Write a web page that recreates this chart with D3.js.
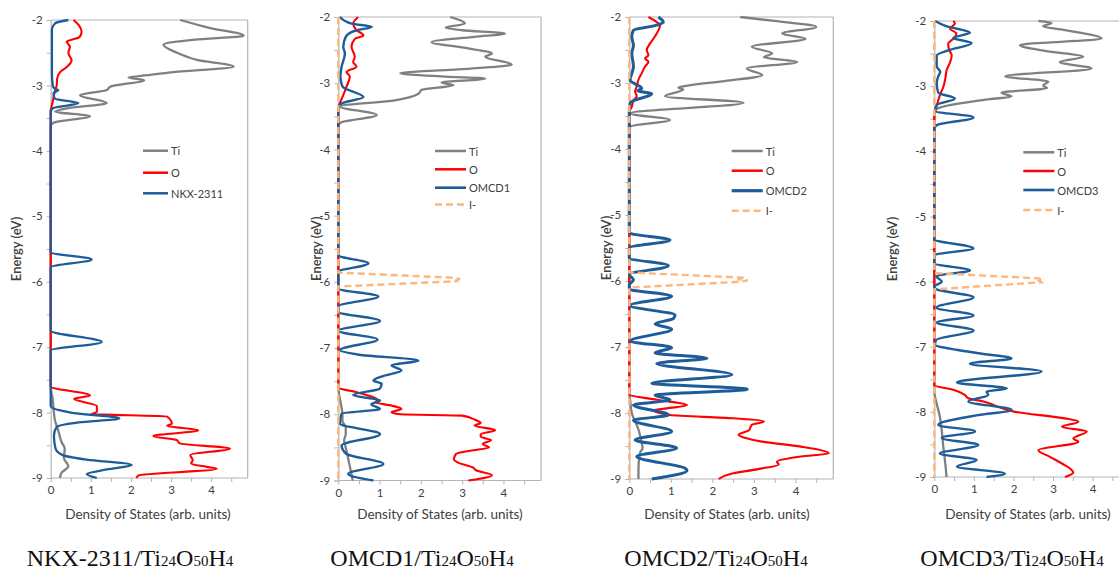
<!DOCTYPE html>
<html><head><meta charset="utf-8">
<script src="https://cdn.jsdelivr.net/npm/d3@7"></script>
<style>body{margin:0;background:#fff}svg{display:block}</style>
</head><body>
<svg id="chart" width="1119" height="573"></svg>
<script>
// ---------------- DATA ----------------
const energyTicks = [-9, -8, -7, -6, -5, -4, -3, -2];
const dosTicks = [0, 1, 2, 3, 4];
const dyeNames = ["NKX-2311", "OMCD1", "OMCD2", "OMCD3"];
const speciesNames = ["Ti", "O", "I-"];
const captionParts = [["/Ti", false], ["24", true], ["O", false], ["50", true], ["H", false], ["4", true]];

// each point: [energy (eV), density of states]
const nkxTi = [[-2,3.23],[-2.12,3.95],[-2.24,4.81],[-2.3,3.6],[-2.38,2.81],[-2.5,3.15],[-2.56,3.39],[-2.61,3.64],[-2.71,4.56],[-2.8,3.0],[-2.84,2.48],[-2.88,1.94],[-2.92,2.33],[-3.02,1.48],[-3.07,1.40],[-3.15,0.73],[-3.27,1.40],[-3.35,0.40],[-3.40,0.11],[-3.47,0.98],[-3.57,0.07],[-3.62,0],[-7.6,0],[-7.8,0.05],[-8.0,0.08],[-8.1,0.1],[-8.3,0.2],[-8.45,0.27],[-8.55,0.35],[-8.7,0.33],[-8.82,0.44],[-8.92,0.27],[-9,0.23]];
const nkxO = [[-2,0.57],[-2.08,0.7],[-2.18,0.77],[-2.26,0.72],[-2.33,0.40],[-2.41,0.48],[-2.5,0.44],[-2.62,0.52],[-2.72,0.40],[-2.8,0.23],[-2.9,0.16],[-3.0,0.15],[-3.1,0.1],[-3.25,0.05],[-3.4,0],[-7.6,0],[-7.74,0.98],[-7.79,0.58],[-7.9,1.15],[-7.99,1.15],[-8.02,1.02],[-8.06,2.9],[-8.17,3.02],[-8.2,2.9],[-8.27,3.68],[-8.36,2.56],[-8.42,3.14],[-8.47,3.22],[-8.55,4.47],[-8.65,3.48],[-8.73,3.54],[-8.78,3.5],[-8.83,3.89],[-8.86,4.14],[-8.96,2.19],[-9,2.14]];
const nkxDye = [[-2,0.44],[-2.05,0.11],[-2.15,0.03],[-2.8,0.03],[-3.0,0.05],[-3.05,0.1],[-3.07,0.19],[-3.12,0.07],[-3.2,0.1],[-3.27,0.69],[-3.35,0.05],[-3.4,0],[-5.55,0],[-5.66,1.02],[-5.78,0],[-6.75,0],[-6.92,1.27],[-7.05,0],[-7.9,0],[-8.0,0.5],[-8.09,1.71],[-8.15,0.7],[-8.22,0.15],[-8.35,0.08],[-8.55,0.12],[-8.65,0.3],[-8.72,0.9],[-8.8,2.02],[-8.87,1.4],[-8.94,0.9],[-9,1.15]];

const omcd1Ti = [[-2,2.71],[-2.05,2.95],[-2.1,3.07],[-2.16,2.6],[-2.2,3.0],[-2.25,4.04],[-2.3,3.3],[-2.38,2.26],[-2.46,3.0],[-2.55,3.72],[-2.6,3.56],[-2.72,4.2],[-2.78,3.2],[-2.85,1.5],[-2.9,2.6],[-2.93,3.56],[-2.99,2.5],[-3.03,2.79],[-3.1,2.02],[-3.16,1.94],[-3.26,1.37],[-3.35,0.04],[-3.48,0.93],[-3.6,0.04],[-3.65,0],[-7.6,0],[-7.7,0.02],[-7.9,0.08],[-8.0,0.1],[-8.1,0.1],[-8.2,0.18],[-8.3,0.18],[-8.4,0.14],[-8.5,0.18],[-8.7,0.25],[-8.85,0.3],[-9,0.35]];
const omcd1O = [[-2,0.48],[-2.1,0.36],[-2.2,0.44],[-2.25,0.57],[-2.28,0.61],[-2.33,0.4],[-2.45,0.32],[-2.6,0.4],[-2.68,0.36],[-2.75,0.44],[-2.83,0.2],[-2.9,0.28],[-3.05,0.2],[-3.18,0.12],[-3.3,0.04],[-3.36,0],[-7.6,0],[-7.66,0.4],[-7.72,0.75],[-7.78,0.95],[-7.82,0.9],[-7.87,1.3],[-7.92,1.53],[-7.97,1.29],[-8.0,1.5],[-8.02,3.0],[-8.08,3.3],[-8.13,3.45],[-8.17,3.3],[-8.24,3.8],[-8.3,3.45],[-8.34,3.45],[-8.39,3.7],[-8.45,3.5],[-8.5,3.65],[-8.55,3.2],[-8.6,2.85],[-8.68,2.8],[-8.73,2.9],[-8.8,3.25],[-8.85,3.35],[-8.92,3.72],[-9,3.15]];
const omcd1Dye = [[-2,0.04],[-2.1,0.32],[-2.15,0.81],[-2.2,0.44],[-2.3,0.18],[-2.45,0.12],[-2.55,0.16],[-2.75,0.08],[-2.9,0.05],[-3.05,0.1],[-3.21,0.61],[-3.3,0.1],[-3.35,0],[-5.6,0],[-5.72,0.73],[-5.85,0],[-6.1,0],[-6.22,0.97],[-6.37,0],[-6.45,0],[-6.59,1.01],[-6.74,0],[-6.87,0.95],[-7.03,0.04],[-7.1,0.5],[-7.19,1.94],[-7.26,1.29],[-7.34,1.53],[-7.42,1.1],[-7.49,0.85],[-7.54,1.05],[-7.61,1.01],[-7.71,0.36],[-7.79,1.01],[-7.85,0.8],[-7.92,1.01],[-7.99,0.08],[-8.14,0.04],[-8.3,1.01],[-8.47,0.08],[-8.6,0.2],[-8.75,1.09],[-8.9,0.24],[-9,0.85]];
const omcd1I = [[-2,0],[-5.86,0],[-5.94,2.85],[-5.96,2.95],[-5.97,2.8],[-5.99,2.9],[-6.07,0],[-9,0]];

const omcd2Ti = [[-2,2.67],[-2.06,3.5],[-2.15,4.5],[-2.25,3.68],[-2.33,4.24],[-2.45,2.95],[-2.55,3.44],[-2.61,3.24],[-2.68,4.04],[-2.78,2.83],[-2.88,3.2],[-2.97,2.3],[-3.04,1.4],[-3.07,1.18],[-3.1,1.3],[-3.2,0.86],[-3.3,2.75],[-3.46,0.02],[-3.56,0.98],[-3.66,0.02],[-3.7,0],[-7.7,0],[-7.8,0.02],[-8.0,0.06],[-8.25,0.22],[-8.46,0.3],[-8.53,0.32],[-8.6,0.26],[-8.85,0.22],[-9,0.22]];
const omcd2O = [[-2,0.46],[-2.06,0.62],[-2.13,0.74],[-2.25,0.66],[-2.33,0.58],[-2.4,0.5],[-2.5,0.42],[-2.58,0.46],[-2.63,0.38],[-2.68,0.46],[-2.75,0.38],[-2.85,0.3],[-2.95,0.22],[-3.05,0.18],[-3.13,0.14],[-3.2,0.18],[-3.26,0.1],[-3.36,0.06],[-3.44,0],[-7.72,0],[-7.8,0.66],[-7.88,1.39],[-7.93,0.9],[-7.96,0.58],[-8.03,0.98],[-8.08,2.5],[-8.13,3.24],[-8.18,2.95],[-8.26,2.88],[-8.33,2.63],[-8.38,2.8],[-8.43,3.16],[-8.51,4.13],[-8.61,4.8],[-8.66,4.13],[-8.74,3.55],[-8.78,3.6],[-8.85,3.1],[-8.92,2.45],[-9,2.15]];
const omcd2Dye = [[-2,0.7],[-2.08,0.82],[-2.13,0.62],[-2.2,0.1],[-2.3,0.06],[-2.43,0.1],[-2.55,0.06],[-2.75,0.1],[-2.96,0.02],[-3.08,0.3],[-3.12,0.2],[-3.16,0.54],[-3.3,0.02],[-3.45,0],[-5.27,0],[-5.38,0.98],[-5.5,0],[-5.65,0],[-5.77,0.94],[-5.9,0],[-5.98,0.1],[-6.06,0],[-6.12,0],[-6.23,1.02],[-6.37,0.02],[-6.52,1.1],[-6.57,1.06],[-6.65,0.62],[-6.73,1.02],[-6.91,0.02],[-7.01,1.02],[-7.09,0.62],[-7.17,1.87],[-7.25,0.66],[-7.42,2.47],[-7.55,0.54],[-7.64,2.84],[-7.73,0.62],[-7.8,0.98],[-7.88,0.1],[-8.03,0.94],[-8.11,0.1],[-8.28,1.02],[-8.41,0.14],[-8.53,1.14],[-8.66,0.18],[-8.84,1.35],[-8.87,1.39],[-9,0.54]];
const omcd2I = [[-2,0],[-5.87,0],[-5.95,2.75],[-5.97,2.6],[-5.99,2.85],[-6.01,2.7],[-6.1,0],[-9,0]];

const omcd3Ti = [[-2,2.63],[-2.03,2.96],[-2.08,2.75],[-2.13,3.2],[-2.27,4.23],[-2.37,2.16],[-2.46,2.8],[-2.55,3.76],[-2.63,3.17],[-2.73,3.97],[-2.85,1.79],[-2.93,2.88],[-2.99,2.75],[-3.03,2.85],[-3.1,1.7],[-3.16,1.95],[-3.2,1.4],[-3.35,0.06],[-3.4,0],[-7.7,0],[-7.85,0.05],[-8.07,0.14],[-8.3,0.19],[-8.55,0.23],[-8.75,0.27],[-9,0.31]];
const omcd3O = [[-2,0.48],[-2.04,0.52],[-2.12,0.4],[-2.19,0.56],[-2.27,0.48],[-2.35,0.35],[-2.45,0.38],[-2.53,0.44],[-2.63,0.4],[-2.76,0.31],[-2.88,0.28],[-3.01,0.23],[-3.14,0.14],[-3.3,0.06],[-3.4,0],[-7.59,0],[-7.66,0.48],[-7.74,0.77],[-7.79,0.86],[-7.84,1.24],[-7.92,1.6],[-8.0,2.04],[-8.1,3.3],[-8.15,3.64],[-8.23,3.22],[-8.3,3.85],[-8.41,3.51],[-8.46,3.64],[-8.59,2.63],[-8.69,2.92],[-8.82,3.3],[-8.87,3.43],[-8.93,3.51],[-9,3.3]];
const omcd3Dye = [[-2,0.02],[-2.08,0.3],[-2.18,0.9],[-2.26,0.48],[-2.34,0.94],[-2.45,0.35],[-2.53,0.06],[-2.7,0.06],[-2.78,0.15],[-2.85,0.1],[-2.95,0.06],[-3.1,0.1],[-3.19,0.52],[-3.29,0.06],[-3.38,0.02],[-3.48,0.99],[-3.6,0.06],[-3.65,0],[-5.35,0],[-5.49,0.99],[-5.6,0],[-5.72,0],[-5.83,0.9],[-5.92,0.05],[-6.0,0.19],[-6.08,0],[-6.12,0.06],[-6.24,0.99],[-6.4,0.06],[-6.52,0.99],[-6.63,0.06],[-6.75,0.99],[-6.9,0.04],[-6.97,0.02],[-7.05,0.6],[-7.1,1.11],[-7.18,1.95],[-7.26,0.9],[-7.38,2.71],[-7.55,0.57],[-7.64,1.83],[-7.69,1.32],[-7.74,1.36],[-7.84,0.86],[-7.97,1.95],[-8.05,1.11],[-8.2,0.1],[-8.3,1.03],[-8.4,0.19],[-8.51,1.11],[-8.64,0.14],[-8.74,1.07],[-8.84,0.57],[-8.95,1.78],[-9,1.32]];
const omcd3I = [[-2,0],[-5.87,0],[-5.95,2.6],[-5.97,2.75],[-5.99,2.65],[-6.01,2.7],[-6.12,0],[-9,0]];

// ---------------- LAYOUT / STYLE ----------------
const panelData = [
  {ti: nkxTi, o: nkxO, dye: nkxDye, iod: null},
  {ti: omcd1Ti, o: omcd1O, dye: omcd1Dye, iod: omcd1I},
  {ti: omcd2Ti, o: omcd2O, dye: omcd2Dye, iod: omcd2I},
  {ti: omcd3Ti, o: omcd3O, dye: omcd3Dye, iod: omcd3I}
];
const layout = [
  {x: [50.7, 247.7], y: [478, 20], eTitleX: 16, xTitleX: 148, capX: 130, leg: {x: 143, len: 25, ys: [150.7, 172.7, 193.3]}, dyeW: 2.3},
  {x: [338.3, 541], y: [480.5, 17], eTitleX: 316, xTitleX: 440, capX: 422, leg: {x: 435, len: 31, ys: [151, 169.3, 187.7, 204.5]}, dyeW: 2.4},
  {x: [629.3, 833.3], y: [479, 17], eTitleX: 606, xTitleX: 727, capX: 716, leg: {x: 731.7, len: 31, ys: [151, 170.7, 190.7, 210.7]}, dyeW: 3.0},
  {x: [934.3, 1128.7], y: [477, 21], eTitleX: 892, xTitleX: 1028, capX: 1012, leg: {x: 1023.3, len: 31, ys: [152.3, 171, 190, 210]}, dyeW: 2.4}
];
const XMAX = 4.91;
const colors = {ti: "#808080", o: "#ff0000", dye: "#1d5c98", iod: "#fbb77d", frame: "#b4b4b4", text: "#404040"};
const sansFont = "Lato, 'Open Sans', 'Liberation Sans', sans-serif";

const svg = d3.select("#chart");

panelData.forEach((pd, i) => {
  const L = layout[i];
  const xs = d3.scaleLinear().domain([0, XMAX]).range(L.x);
  const ys = d3.scaleLinear().domain([-9, -2]).range(L.y);
  const g = svg.append("g");
  const clipId = "clip" + i;
  g.append("clipPath").attr("id", clipId).append("rect")
    .attr("x", L.x[0] - 3).attr("y", L.y[1] - 3)
    .attr("width", L.x[1] - L.x[0] + 3).attr("height", L.y[0] - L.y[1] + 6);

  // frame: top & right
  g.append("line").attr("x1", L.x[0]).attr("x2", L.x[1]).attr("y1", L.y[1]).attr("y2", L.y[1])
    .attr("stroke", colors.frame).attr("stroke-width", 1.2);
  g.append("line").attr("x1", L.x[1]).attr("x2", L.x[1]).attr("y1", L.y[1]).attr("y2", L.y[0])
    .attr("stroke", colors.frame).attr("stroke-width", 1.2);

  // axes
  const yMinor = d3.range(-9, -1.99, 0.5);
  const xMinor = d3.range(0, XMAX, 0.5);
  const yAxis = d3.axisLeft(ys).tickValues(yMinor).tickSize(4)
    .tickFormat(d => energyTicks.includes(d) ? String(d) : "");
  const xAxis = d3.axisBottom(xs).tickValues(xMinor).tickSize(4)
    .tickFormat(d => dosTicks.includes(d) ? String(d) : "");
  const ya = g.append("g").attr("transform", `translate(${L.x[0]},0)`).call(yAxis);
  const xa = g.append("g").attr("transform", `translate(0,${L.y[0]})`).call(xAxis);
  [ya, xa].forEach(a => {
    a.select(".domain").attr("stroke", colors.frame).attr("stroke-width", 1.2);
    a.selectAll(".tick line").attr("stroke", colors.frame);
    a.selectAll(".tick text").attr("fill", colors.text).attr("font-family", sansFont).attr("font-size", 11.5);
  });
  ya.selectAll(".tick text").attr("x", -8);
  xa.selectAll(".tick text").attr("y", 8);
  xa.select(".domain").attr("d", `M${L.x[0]},0H${L.x[1]}`);

  // axis titles
  g.append("text").attr("transform", `translate(${L.eTitleX},${(L.y[0] + L.y[1]) / 2}) rotate(-90)`)
    .attr("text-anchor", "middle").attr("dominant-baseline", "central")
    .attr("font-family", sansFont).attr("font-size", 13).attr("font-weight", 600).attr("fill", colors.text)
    .text("Energy (eV)");
  g.append("text").attr("x", L.xTitleX).attr("y", 519).attr("text-anchor", "middle")
    .attr("font-family", sansFont).attr("font-size", 13.5).attr("fill", colors.text)
    .text("Density of States (arb. units)");

  // caption
  const cap = g.append("text").attr("x", L.capX).attr("y", 566).attr("text-anchor", "middle")
    .attr("font-family", "'Liberation Serif', 'DejaVu Serif', serif").attr("fill", "#111");
  cap.append("tspan").attr("font-size", 24).text(dyeNames[i]);
  captionParts.forEach(([t, sub]) => cap.append("tspan").attr("font-size", sub ? 15 : 24).text(t));

  // curves
  const line = d3.line().x(d => xs(d[1])).y(d => ys(d[0])).curve(d3.curveMonotoneY);
  const lineLin = d3.line().x(d => xs(d[1])).y(d => ys(d[0]));
  const plot = g.append("g").attr("clip-path", `url(#${clipId})`);
  plot.append("path").datum(pd.ti).attr("d", line).attr("fill", "none").attr("stroke", colors.ti).attr("stroke-width", 2.3).attr("stroke-linejoin", "round");
  plot.append("path").datum(pd.o).attr("d", line).attr("fill", "none").attr("stroke", colors.o).attr("stroke-width", 2.1).attr("stroke-linejoin", "round");
  plot.append("path").datum(pd.dye).attr("d", line).attr("fill", "none").attr("stroke", colors.dye).attr("stroke-width", L.dyeW).attr("stroke-linejoin", "round");
  if (pd.iod) {
    plot.append("path").datum(pd.iod).attr("d", lineLin).attr("fill", "none").attr("stroke", colors.iod)
      .attr("stroke-width", 2.4).attr("stroke-dasharray", "7,4");
  }

  // legend
  const entries = [
    {name: speciesNames[0], color: colors.ti, w: 2.5, dash: null},
    {name: speciesNames[1], color: colors.o, w: 2.5, dash: null},
    {name: dyeNames[i], color: colors.dye, w: L.dyeW + 0.2, dash: null}
  ];
  if (pd.iod) entries.push({name: speciesNames[2], color: colors.iod, w: 2.6, dash: "7,4"});
  entries.forEach((e, k) => {
    const y = L.leg.ys[k];
    g.append("line").attr("x1", L.leg.x).attr("x2", L.leg.x + L.leg.len).attr("y1", y).attr("y2", y)
      .attr("stroke", e.color).attr("stroke-width", e.w).attr("stroke-dasharray", e.dash);
    g.append("text").attr("x", L.leg.x + L.leg.len + 3).attr("y", y).attr("dominant-baseline", "central")
      .attr("font-family", sansFont).attr("font-size", 11).attr("fill", colors.text).text(e.name);
  });
});
</script>
</body></html>
